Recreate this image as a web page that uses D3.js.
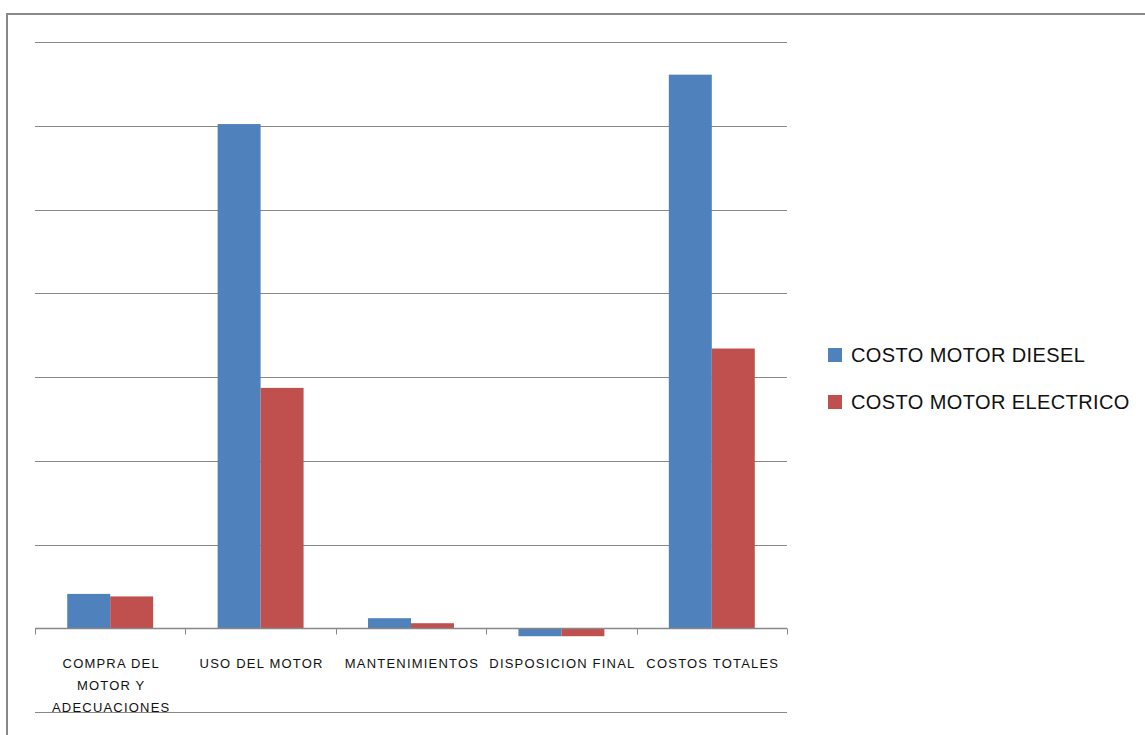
<!DOCTYPE html>
<html>
<head>
<meta charset="utf-8">
<script src="https://cdn.jsdelivr.net/npm/d3@7"></script>
<style>
  body { margin: 0; background: #fff; }
  svg { display: block; }
</style>
</head>
<body>
<div id="chart"></div>
<script>
// Chart data
const categories = ["COMPRA DEL MOTOR Y ADECUACIONES", "USO DEL MOTOR", "MANTENIMIENTOS", "DISPOSICION FINAL", "COSTOS TOTALES"];
const categoryLines = [["COMPRA DEL", "MOTOR Y", "ADECUACIONES"], ["USO DEL MOTOR"], ["MANTENIMIENTOS"], ["DISPOSICION FINAL"], ["COSTOS TOTALES"]];
const seriesNames = ["COSTO MOTOR DIESEL", "COSTO MOTOR ELECTRICO"];
const dieselValues = [0.41, 6.02, 0.12, -0.095, 6.61];
const electricValues = [0.38, 2.87, 0.06, -0.095, 3.34];
const gridValues = [-1, 0, 1, 2, 3, 4, 5, 6, 7];

const width = 1145;
const height = 735;
const colors = ["#4F81BD", "#C0504D"];

const svg = d3.select("#chart")
  .append("svg")
  .attr("width", width)
  .attr("height", height);

// Outer chart border (only top and left visible)
svg.append("path")
  .attr("d", `M7,${height} L7,14 L${width},14`)
  .attr("fill", "none")
  .attr("stroke", "#898989")
  .attr("stroke-width", 2);

// Scales
const x = d3.scaleBand()
  .domain(categories)
  .range([35, 787])
  .paddingInner(0)
  .paddingOuter(0);

const y = d3.scaleLinear()
  .domain([-1, 7])
  .range([712, 42]);

const barW = x.bandwidth() / 3.5;

// Gridlines
svg.append("g")
  .selectAll("line")
  .data(gridValues)
  .enter()
  .append("line")
  .attr("x1", 35)
  .attr("x2", 787)
  .attr("y1", d => Math.round(y(d)) + 0.5)
  .attr("y2", d => Math.round(y(d)) + 0.5)
  .attr("stroke", "#888")
  .attr("stroke-width", 1);

// Bars
const series = [dieselValues, electricValues];
series.forEach((vals, s) => {
  svg.append("g")
    .selectAll("rect")
    .data(vals)
    .enter()
    .append("rect")
    .attr("x", (d, i) => x(categories[i]) + x.bandwidth() / 2 - barW + s * barW)
    .attr("width", barW)
    .attr("y", d => y(Math.max(0, d)))
    .attr("height", d => Math.abs(y(d) - y(0)))
    .attr("fill", colors[s]);
});

// Zero axis with tick marks between categories
const axis = svg.append("g")
  .attr("transform", `translate(0,${Math.round(y(0)) + 0.5})`);
axis.append("line")
  .attr("x1", 35).attr("x2", 787)
  .attr("stroke", "#888").attr("stroke-width", 1.5);
axis.selectAll(".sep")
  .data(d3.range(categories.length + 1))
  .enter()
  .append("line")
  .attr("class", "sep")
  .attr("x1", i => Math.round(35 + i * x.step()) + 0.5)
  .attr("x2", i => Math.round(35 + i * x.step()) + 0.5)
  .attr("y1", 0)
  .attr("y2", 6)
  .attr("stroke", "#888");

// Category labels
const labels = svg.append("g")
  .selectAll("text")
  .data(categories)
  .enter()
  .append("text")
  .attr("x", d => x(d) + x.bandwidth() / 2)
  .attr("y", 668)
  .attr("text-anchor", "middle")
  .style("font-family", "'Liberation Sans', Arial, sans-serif")
  .style("font-size", "13px")
  .style("letter-spacing", "1.2px")
  .style("fill", "#111");

labels.each(function(d, i) {
  const t = d3.select(this);
  categoryLines[i].forEach((ln, j) => {
    t.append("tspan")
      .attr("x", x(d) + x.bandwidth() / 2 + 1)
      .attr("dy", j === 0 ? 0 : 22)
      .text(ln);
  });
});

// Legend
const legend = svg.append("g")
  .selectAll("g")
  .data(seriesNames)
  .enter()
  .append("g")
  .attr("transform", (d, i) => `translate(828,${348 + i * 47})`);

legend.append("rect")
  .attr("width", 14)
  .attr("height", 14)
  .attr("fill", (d, i) => colors[i]);

legend.append("text")
  .attr("x", 23)
  .attr("y", 14)
  .style("font-family", "'Liberation Sans', Arial, sans-serif")
  .style("font-size", "20px")
  .style("letter-spacing", "0.4px")
  .style("fill", "#111")
  .text(d => d);
</script>
</body>
</html>
